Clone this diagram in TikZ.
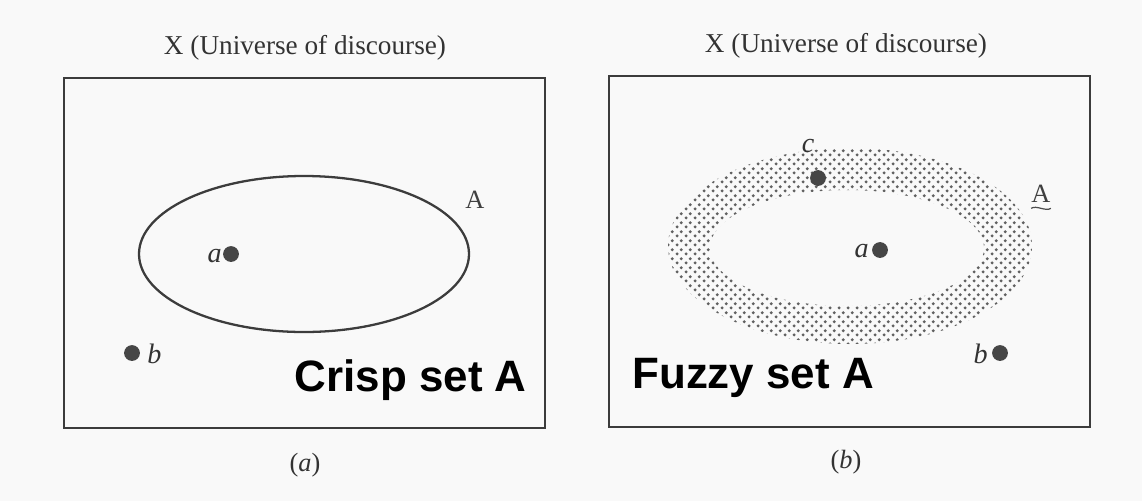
\documentclass[tikz,border=0pt]{standalone}
\usepackage{fontspec}
\setmainfont{Liberation Serif}
\newfontfamily\arialf{Liberation Sans}
\usetikzlibrary{patterns}
\definecolor{bgc}{RGB}{249,249,249}
\definecolor{linec}{RGB}{60,60,60}
\definecolor{dotc}{RGB}{70,70,70}
\pgfdeclarepatternformonly{fuzzdots}{\pgfpointorigin}{\pgfpoint{5.2pt}{5.2pt}}{\pgfpoint{5.2pt}{5.2pt}}{%
  \pgfpathcircle{\pgfpoint{1.3pt}{1.3pt}}{1.0pt}%
  \pgfpathcircle{\pgfpoint{3.9pt}{3.9pt}}{1.0pt}%
  \pgfusepath{fill}}
\begin{document}
\begin{tikzpicture}[x=0.02cm,y=-0.02cm,
  frame/.style={draw=linec,line width=1.1pt},
  pt/.style={circle,fill=dotc,inner sep=0pt,minimum size=9pt},
  lbl/.style={font=\fontsize{16}{18}\selectfont\itshape,text=black!80,inner sep=0pt},
  title/.style={font=\fontsize{15.5}{18}\selectfont,text=black!80},
  big/.style={font=\arialf\bfseries\fontsize{25}{28}\selectfont,inner sep=0pt}]
\fill[bgc] (0,0) rectangle (1142,501);
\useasboundingbox (0,0) rectangle (1142,501);
% left panel
\node[title] (t1) at (305,48) {X (Universe of discourse)};
\draw[frame] (64,78) rectangle (545,428);
\draw[linec,line width=1.3pt] (304,254) ellipse [x radius=165,y radius=78];
\node[font=\fontsize{15}{18}\selectfont,text=black!75] (A1) at (475,200) {A};
\node[pt] (a1) at (231,254) {};
\node[lbl,anchor=east] (la1) at (222,256) {a};
\node[pt] (b1) at (132,353) {};
\node[lbl,anchor=west] (lb1) at (147,354) {b};
\node[big,anchor=east] (crisp) at (527,380) {Crisp set A};
\node[lbl,font=\fontsize{15}{18}\selectfont] (cap1) at (305,465) {(\textit{a})};
% right panel
\node[title] (t2) at (846,46) {X (Universe of discourse)};
\draw[frame] (609,76) rectangle (1090,427);
\fill[pattern=fuzzdots,pattern color=black!62,even odd rule]
  (850,246) ellipse [x radius=182,y radius=98]
  (847,248) ellipse [x radius=137,y radius=58];
\node[pt] (c2) at (818,178) {};
\node[lbl] (lc2) at (808,146) {c};
\node[pt] (a2) at (880,250) {};
\node[lbl,anchor=east] (la2) at (869,251) {a};
\node[pt] (b2) at (1000,353) {};
\node[lbl,anchor=east] (lb2) at (988,354) {b};
\node[font=\fontsize{15}{18}\selectfont,text=black!75,inner sep=0pt] (A2) at (1041,194) {A};
\draw[black!70,line width=0.7pt] ([yshift=-3pt]A2.south west) .. controls ([xshift=3pt,yshift=-1pt]A2.south west) and ([xshift=-3pt,yshift=-5pt]A2.south east) .. ([yshift=-3pt]A2.south east);
\node[big,anchor=west] (fuzzy) at (632,378) {Fuzzy set A};
\node[lbl,font=\fontsize{15}{18}\selectfont] (cap2) at (846,462) {(\textit{b})};
\end{tikzpicture}
\end{document}
